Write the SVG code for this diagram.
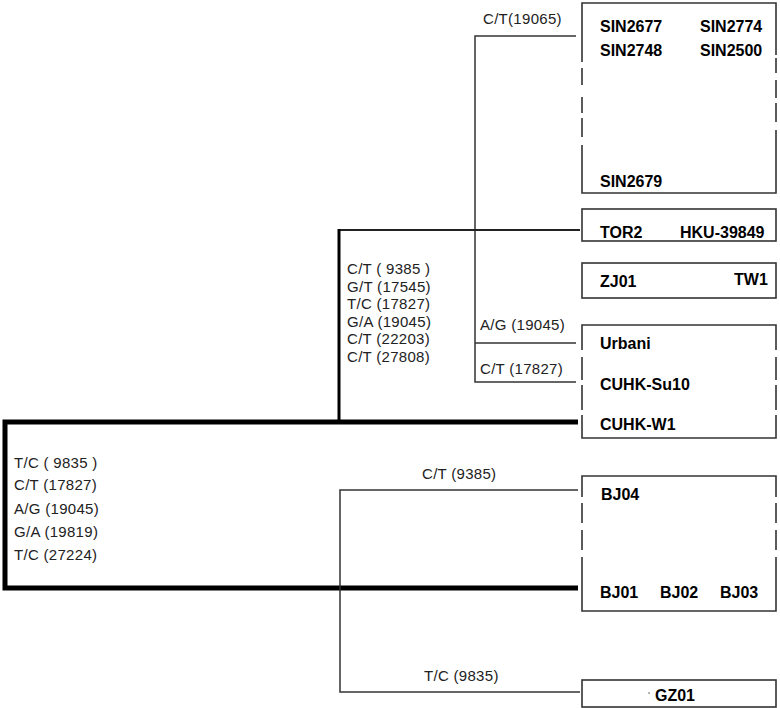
<svg xmlns="http://www.w3.org/2000/svg" width="780" height="708" viewBox="0 0 780 708">
<style>
.box{fill:none;stroke:#333;stroke-width:1.6}
.thin{fill:none;stroke:#333;stroke-width:1.5}
.med{fill:none;stroke:#222;stroke-width:2.2}
.thick{fill:none;stroke:#000;stroke-width:5}
.lab{font-family:"Liberation Sans",Arial,sans-serif;font-size:15px;fill:#222;letter-spacing:0.3px}
.name{font-family:"Liberation Sans",Arial,sans-serif;font-size:16px;font-weight:bold;fill:#000}
</style>
<rect width="780" height="708" fill="#fff"/>
<g id="connectors">
<path class="thin" d="M576,36 H475 V382 H576"/>
<path class="thin" d="M475,343 H576"/>
<path class="med" d="M580,230 H339"/>
<path fill="none" stroke="#000" stroke-width="3" d="M339,229 V422"/>
<path class="thick" d="M578,422 H5 V588 H578"/>
<path class="thin" d="M578,490 H340 V692 H580"/>
</g>
<g id="labels">
<text class="lab" x="483" y="24">C/T(19065)</text>
<text class="lab" x="347" y="274">C/T ( 9385 )</text>
<text class="lab" x="347" y="292">G/T (17545)</text>
<text class="lab" x="347" y="309">T/C (17827)</text>
<text class="lab" x="347" y="327">G/A (19045)</text>
<text class="lab" x="347" y="344">C/T (22203)</text>
<text class="lab" x="347" y="362">C/T (27808)</text>
<text class="lab" x="480" y="330">A/G (19045)</text>
<text class="lab" x="480" y="374">C/T (17827)</text>
<text class="lab" x="14" y="468">T/C ( 9835 )</text>
<text class="lab" x="14" y="490">C/T (17827)</text>
<text class="lab" x="14" y="514">A/G (19045)</text>
<text class="lab" x="14" y="537">G/A (19819)</text>
<text class="lab" x="14" y="560">T/C (27224)</text>
<text class="lab" x="422" y="479">C/T (9385)</text>
<text class="lab" x="424" y="681">T/C (9835)</text>
</g>
<g id="node-sin">
<path class="box" d="M582,62 V3 H776 V55 M776,58 V73 M776,80 V98 M776,103 V122 M776,130 V193 H582 V145 M582,137 V118 M582,113 V97 M582,85 V68"/>
<text class="name" x="600" y="32">SIN2677</text>
<text class="name" x="700" y="32">SIN2774</text>
<text class="name" x="600" y="56">SIN2748</text>
<text class="name" x="700" y="56">SIN2500</text>
<text class="name" x="600" y="187">SIN2679</text>
</g>
<g id="node-tor2">
<rect class="box" x="582" y="209" width="194" height="32"/>
<text class="name" x="600" y="238">TOR2</text>
<text class="name" x="680" y="238">HKU-39849</text>
</g>
<g id="node-zj01">
<rect class="box" x="582" y="263" width="194" height="35"/>
<text class="name" x="600" y="287">ZJ01</text>
<text class="name" x="734" y="285">TW1</text>
</g>
<g id="node-urbani">
<path class="box" d="M582,350 V325 H776 V350 M776,357 V380 M776,385 V410 M776,415 V438 H582 V415 M582,410 V385 M582,380 V357"/>
<text class="name" x="600" y="349">Urbani</text>
<text class="name" x="600" y="390">CUHK-Su10</text>
<text class="name" x="600" y="430">CUHK-W1</text>
</g>
<g id="node-bj">
<path class="box" d="M582,497 V476 H776 V497 M776,503 V523 M776,530 V550 M776,557 V611 H582 V557 M582,550 V530 M582,523 V503"/>
<text class="name" x="601" y="500">BJ04</text>
<text class="name" x="600" y="598">BJ01</text>
<text class="name" x="660" y="598">BJ02</text>
<text class="name" x="720" y="598">BJ03</text>
</g>
<g id="node-gz01">
<rect class="box" x="582" y="680" width="194" height="27"/>
<circle cx="649" cy="693" r="0.8" fill="#555"/>
<text class="name" x="655" y="701">GZ01</text>
</g>
</svg>
